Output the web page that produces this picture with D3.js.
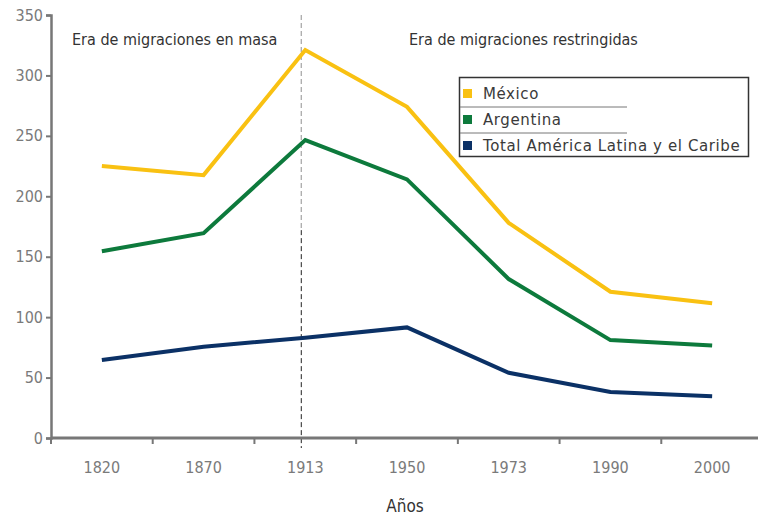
<!DOCTYPE html>
<html>
<head>
<meta charset="utf-8">
<script src="https://cdn.jsdelivr.net/npm/d3@7"></script>
<style>
    body { margin: 0; background: #fff; }
    .tick text { fill: #7a7a7a; font-family: "DejaVu Sans Condensed", "DejaVu Sans", sans-serif; font-size: 16px; }
    .era { fill: #333; font-family: "DejaVu Sans Condensed", "DejaVu Sans", sans-serif; font-size: 16px; }
    .legend text { fill: #3a3a3a; font-family: "DejaVu Sans", sans-serif; font-size: 15px; letter-spacing: 0.6px; }
</style>
</head>
<body>
<div id="chart"></div>
<script>
    // data
    var years = ["1820", "1870", "1913", "1950", "1973", "1990", "2000"];
    var mexico = [225, 217.5, 321, 274, 178, 121, 111.5];
    var argentina = [154.5, 169.5, 246.5, 214, 131.5, 81, 76.5];
    var totalAL = [64.5, 75.5, 83, 91.5, 54, 38, 34.5];
    var seriesNames = ["México", "Argentina", "Total América Latina y el Caribe"];
    var seriesColors = ["#f9c112", "#0d7a3c", "#0b3166"];
    var yTicks = [0, 50, 100, 150, 200, 250, 300, 350];

    var width = 758, height = 519;
    var margin = {top: 15, left: 51, bottom: 81};
    var plotBottom = height - margin.bottom;

    var svg = d3.select("#chart").append("svg")
            .attr("width", width)
            .attr("height", height);

    var x = d3.scaleBand()
            .domain(years)
            .range([margin.left, 763])
            .padding(0);
    var y = d3.scaleLinear()
            .domain([0, 350])
            .range([plotBottom, margin.top]);

    // divider between the two eras
    var divX = x("1913") + x.bandwidth() / 2 - 4;
    svg.append("line")
            .attr("x1", divX).attr("x2", divX)
            .attr("y1", y(350)).attr("y2", y(172))
            .attr("stroke", "#aaa")
            .attr("stroke-width", 1.3)
            .attr("stroke-dasharray", "5,3");
    svg.append("line")
            .attr("x1", divX).attr("x2", divX)
            .attr("y1", y(172)).attr("y2", plotBottom + 10)
            .attr("stroke", "#222")
            .attr("stroke-width", 1)
            .attr("stroke-dasharray", "5,3");

    // y axis
    var yAxis = svg.append("g")
            .attr("transform", "translate(" + margin.left + ",0)")
            .call(d3.axisLeft(y).tickValues(yTicks).tickSize(5).tickPadding(3));
    yAxis.select(".domain").attr("stroke", "#777").attr("stroke-width", 2.5);
    yAxis.selectAll(".tick line").attr("stroke", "#777").attr("stroke-width", 2);

    // x axis: ticks between the bands, labels centred
    var xAxis = svg.append("g")
            .attr("transform", "translate(0," + plotBottom + ")");
    xAxis.append("line")
            .attr("x1", margin.left).attr("x2", width)
            .attr("stroke", "#777").attr("stroke-width", 3);
    xAxis.selectAll(".xt")
            .data(years)
            .enter().append("line")
            .attr("x1", function(d) { return x(d); })
            .attr("x2", function(d) { return x(d); })
            .attr("y1", 0).attr("y2", 6)
            .attr("stroke", "#777").attr("stroke-width", 2);
    xAxis.selectAll(".xl")
            .data(years)
            .enter().append("g")
            .attr("class", "tick")
            .append("text")
            .attr("x", function(d) { return x(d) + x.bandwidth() / 2; })
            .attr("y", 35)
            .attr("text-anchor", "middle")
            .text(function(d) { return d; });

    svg.append("text")
            .attr("x", 405).attr("y", 512)
            .attr("text-anchor", "middle")
            .attr("fill", "#333")
            .style("font-family", "'DejaVu Sans Condensed', 'DejaVu Sans', sans-serif")
            .style("font-size", "17px")
            .text("Años");

    svg.append("text").attr("class", "era")
            .attr("x", 72).attr("y", 45)
            .text("Era de migraciones en masa");
    svg.append("text").attr("class", "era")
            .attr("x", 409).attr("y", 45)
            .text("Era de migraciones restringidas");

    // lines
    var line = d3.line()
            .x(function(d, i) { return x(years[i]) + x.bandwidth() / 2; })
            .y(function(d) { return y(d); });

    [mexico, argentina, totalAL].forEach(function(s, i) {
        svg.append("path")
                .datum(s)
                .attr("fill", "none")
                .attr("stroke", seriesColors[i])
                .attr("stroke-width", 4)
                .attr("d", line);
    });

    // legend
    var lg = svg.append("g").attr("class", "legend");
    lg.append("rect")
            .attr("x", 459.5).attr("y", 77.5)
            .attr("width", 289).attr("height", 79)
            .attr("fill", "#fff")
            .attr("stroke", "#333").attr("stroke-width", 1.5);
    [107, 133].forEach(function(yy) {
        lg.append("line")
                .attr("x1", 460).attr("x2", 627)
                .attr("y1", yy).attr("y2", yy)
                .attr("stroke", "#777").attr("stroke-width", 1);
    });
    var items = lg.selectAll(".item")
            .data(seriesNames)
            .enter().append("g")
            .attr("transform", function(d, i) { return "translate(463," + (94 + i * 26) + ")"; });
    items.append("rect")
            .attr("x", 0).attr("y", -5)
            .attr("width", 9).attr("height", 9)
            .attr("fill", function(d, i) { return seriesColors[i]; });
    items.append("text")
            .attr("x", 20).attr("y", 0)
            .attr("dy", "0.35em")
            .text(function(d) { return d; });
</script>
</body>
</html>
